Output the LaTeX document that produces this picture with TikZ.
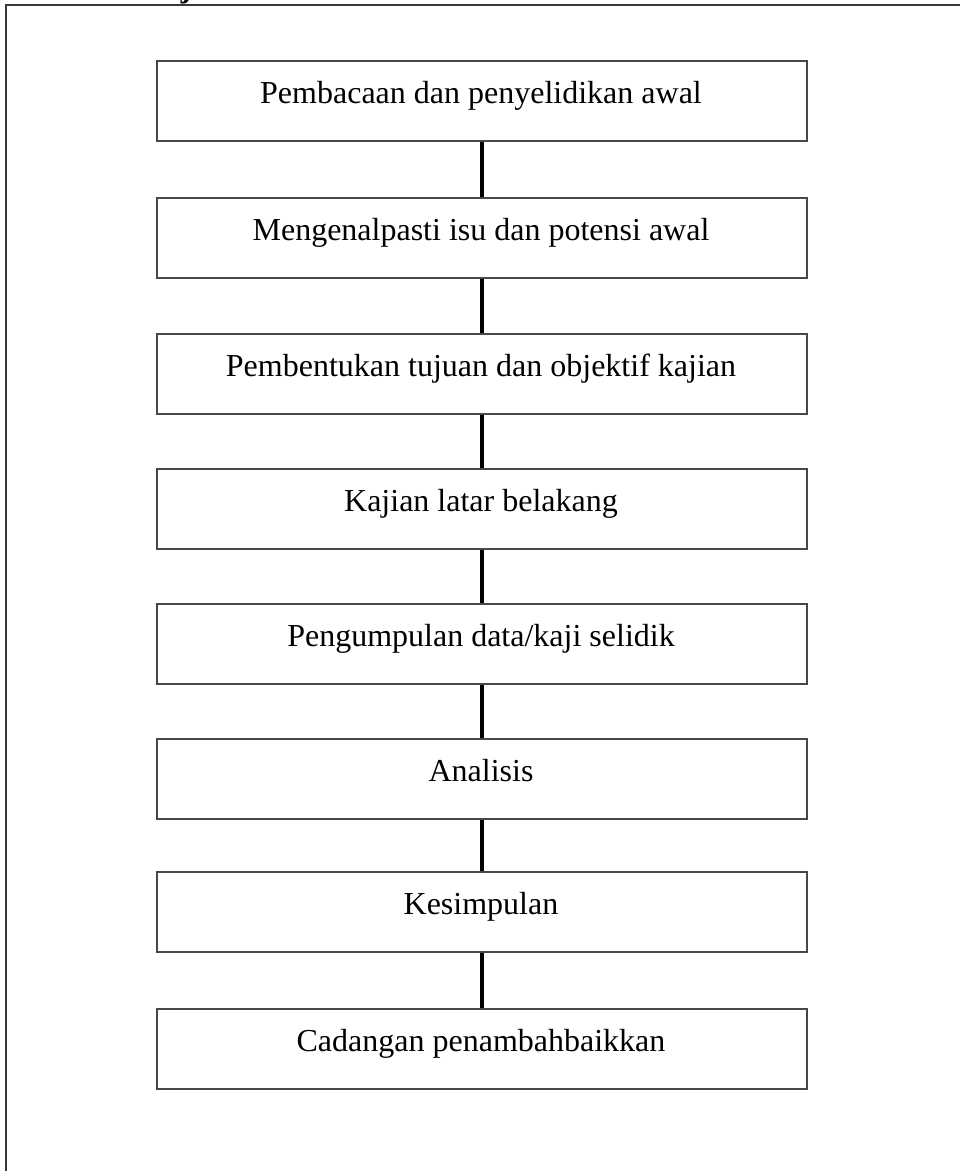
\documentclass[tikz,border=0pt]{standalone}
\usepackage{fontspec}
\setmainfont{Liberation Serif}
\begin{document}
\begin{tikzpicture}[x=0.75pt,y=-0.75pt,
  stepbox/.style={draw=black!72,line width=1.6pt,minimum width=487.5pt,minimum height=60pt,anchor=north,inner sep=0pt},
  label/.style={font=\fontsize{24}{28}\selectfont,anchor=base},
  link/.style={draw=black,line width=2.8pt},
  frame/.style={draw=black!78,line width=1.8pt}]
\useasboundingbox (0,0) rectangle (960,1171);
\fill[white] (0,0) rectangle (960,1171);
\begin{scope}
\clip (0,0) rectangle (960,4);
\node[font=\bfseries\fontsize{23}{26}\selectfont,anchor=base] (jfrag) at (186,-3) {j};
\end{scope}
\draw[frame] (6,1171) -- (6,5) -- (960,5);
\node[stepbox] (b1) at (482,60) {};
\node[stepbox] (b2) at (482,197) {};
\node[stepbox] (b3) at (482,333) {};
\node[stepbox] (b4) at (482,468) {};
\node[stepbox] (b5) at (482,603) {};
\node[stepbox] (b6) at (482,738) {};
\node[stepbox] (b7) at (482,871) {};
\node[stepbox] (b8) at (482,1008) {};
\node[label] (t1) at (481,103) {Pembacaan dan penyelidikan awal};
\node[label] (t2) at (481,240) {Mengenalpasti isu dan potensi awal};
\node[label] (t3) at (481,376) {Pembentukan tujuan dan objektif kajian};
\node[label] (t4) at (481,511) {Kajian latar belakang};
\node[label] (t5) at (481,646) {Pengumpulan data/kaji selidik};
\node[label] (t6) at (481,781) {Analisis};
\node[label] (t7) at (481,914) {Kesimpulan};
\node[label] (t8) at (481,1051) {Cadangan penambahbaikkan};
\foreach \a/\b in {b1/b2,b2/b3,b3/b4,b4/b5,b5/b6,b6/b7,b7/b8}
  \draw[link] (\a.south) -- (\b.north);
\end{tikzpicture}
\end{document}
